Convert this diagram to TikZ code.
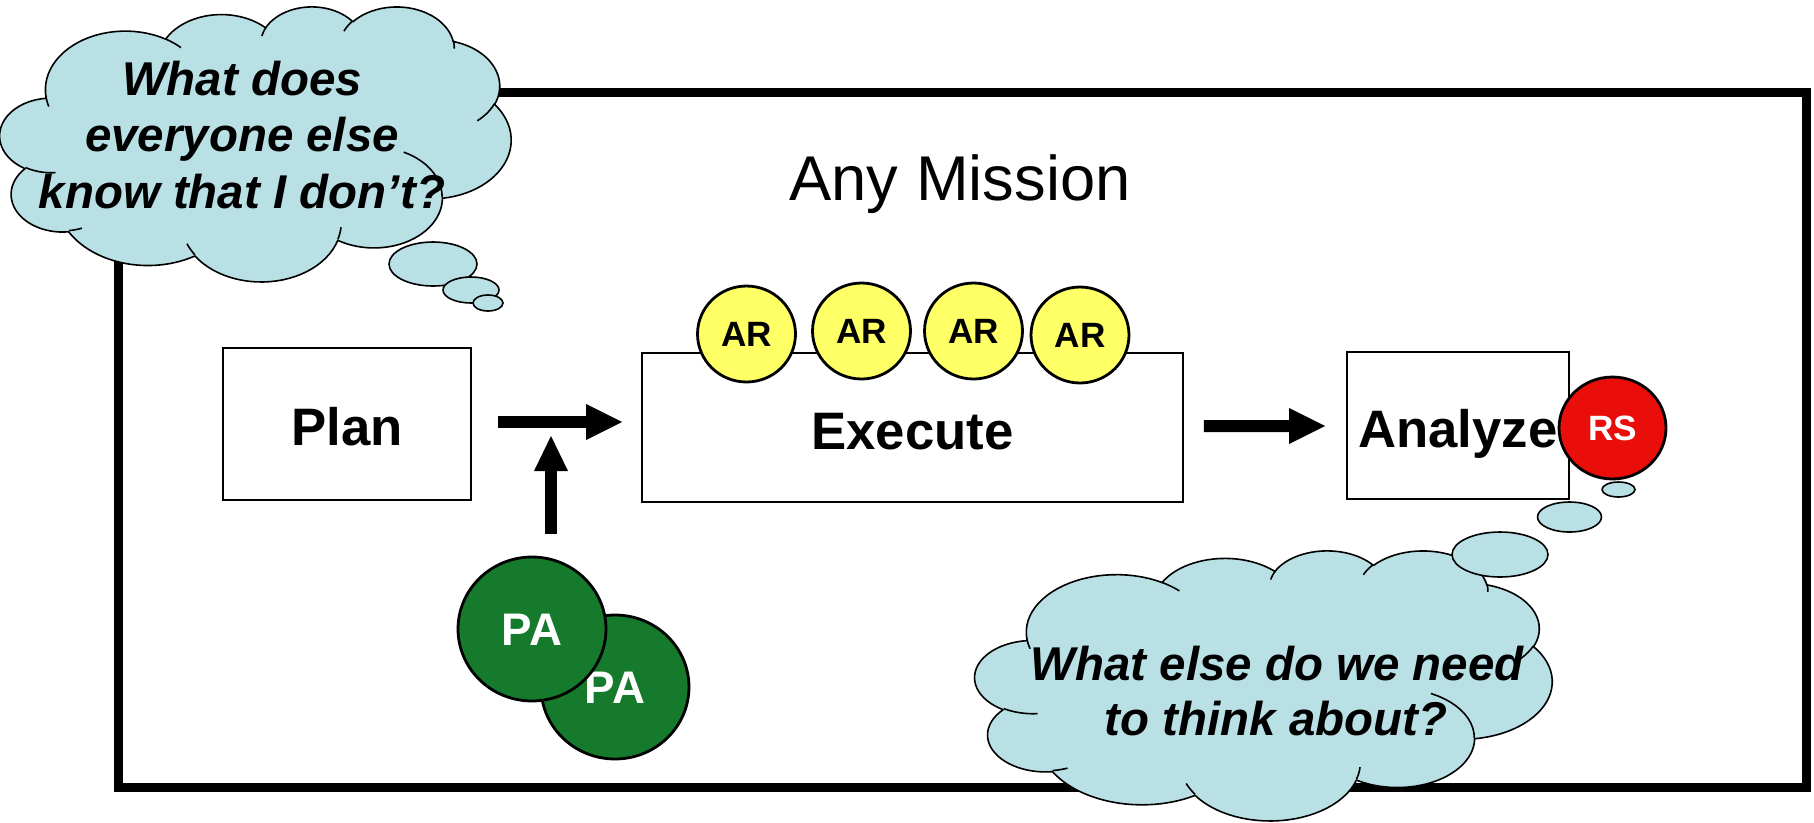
\documentclass[tikz,border=0pt]{standalone}
\usepackage{fontspec}
\setmainfont{Liberation Sans}
\usetikzlibrary{arrows.meta,calc,shapes.geometric}

\definecolor{cloudblue}{RGB}{185,224,228}
\definecolor{aryellow}{RGB}{255,255,102}
\definecolor{pagreen}{RGB}{21,122,43}
\definecolor{rsred}{RGB}{233,14,10}

% ---------------------------------------------------------------
% Cloud outline on a 0..432 grid, built from elliptical arcs that
% are given by radii, a start ray angle and a sweep (all degrees).
% ---------------------------------------------------------------
\newcommand\cldsweep[4]{%
  \pgfmathsetmacro\cldts{atan2(#1*sin(#3),#2*cos(#3))}%
  \pgfmathsetmacro\cldtt{atan2(#1*sin(#3+#4),#2*cos(#3+#4))}%
  \pgfmathsetmacro\cldte{\cldts+mod(\cldtt-\cldts+720,360)}%
  \pgfmathsetmacro\cldcx{\cldx-#1*cos(\cldts)}%
  \pgfmathsetmacro\cldcy{\cldy-#2*sin(\cldts)}%
  \pgfmathsetmacro\cldnx{\cldcx+#1*cos(\cldte)}%
  \pgfmathsetmacro\cldny{\cldcy+#2*sin(\cldte)}%
  \xdef\cldx{\cldnx}\xdef\cldy{\cldny}%
}
\newcommand\cldbegin[2]{\xdef\cldx{#1}\xdef\cldy{#2}\xdef\cldouter{(#1,#2)}}
\newcommand\cldarc[4]{%
  \cldsweep{#1}{#2}{#3}{#4}%
  \xdef\cldouter{\unexpanded\expandafter{\cldouter} -- plot[domain=\cldts:\cldte,samples=28,variable=\noexpand\t]({\cldcx+#1*cos(\noexpand\t)},{\cldcy+#2*sin(\noexpand\t)})}%
}
\gdef\cldinner{}
\newcommand\cldinnerarc[6]{%
  \xdef\cldx{#1}\xdef\cldy{#2}%
  \cldsweep{#3}{#4}{#5}{#6}%
  \xdef\cldinner{\unexpanded\expandafter{\cldinner} plot[domain=\cldts:\cldte,samples=12,variable=\noexpand\t]({\cldcx+#3*cos(\noexpand\t)},{\cldcy+#4*sin(\noexpand\t)})}%
}

% outer contour of the cloud
\cldbegin{39.00}{143.70}
\cldarc{67.53}{91.90}{-190.4875}{123.7805}
\cldarc{53.33}{72.67}{-144.1024}{89.9452}
\cldarc{43.65}{59.45}{-145.8079}{99.7230}
\cldarc{48.57}{65.95}{-130.9861}{117.2417}
\cldarc{53.33}{72.73}{-78.7089}{109.0269}
\cldarc{67.75}{92.20}{-46.2673}{130.2690}
\cldarc{57.85}{78.67}{0.6250}{114.0333}
\cldarc{67.52}{92.15}{22.4516}{115.1726}
\cldarc{77.20}{105.43}{66.2426}{75.7110}
\cldarc{43.60}{59.18}{-274.9421}{146.7356}
\cldarc{43.45}{59.45}{-246.8285}{152.5189}

% short inner strokes between the puffs
\cldinnerarc{46.93}{261.77}{43.45}{59.45}{86.742}{26.430}
\cldinnerarc{69.28}{348.99}{43.60}{59.18}{73.610}{11.447}
\cldinnerarc{164.78}{390.90}{67.52}{92.15}{137.624}{14.081}
\cldinnerarc{288.27}{347.51}{67.52}{92.15}{6.4533}{15.998}
\cldinnerarc{341.29}{229.54}{57.85}{78.67}{-70.2924}{70.9174}
\cldinnerarc{417.98}{153.54}{53.33}{72.73}{30.318}{27.752}
\cldinnerarc{383.24}{54.26}{48.57}{65.95}{-13.744}{14.859}
\cldinnerarc{290.78}{39.52}{48.57}{65.95}{-149.181}{18.195}
\cldinnerarc{221.41}{47.20}{43.65}{59.45}{-163.494}{17.686}
\cldinnerarc{140.00}{51.92}{67.53}{91.90}{-66.707}{12.319}
\cldinnerarc{41.27}{157.89}{67.53}{91.90}{157.654}{11.858}

% draws the cloud in the box with top-left corner (#1,#2), size #3 x #4
\newcommand\drawcloud[4]{%
  \begin{scope}[shift={(#1,#2)}, xscale=#3/432, yscale=#4/432]
    \draw[cloudline, fill=cloudblue] \cldouter -- cycle;
    \draw[cloudline] \cldinner;
  \end{scope}}

\begin{document}
\begin{tikzpicture}[x=0.02cm, y=-0.02cm,
  cloudline/.style={line width=0.032cm, line join=round},
  bubble/.style={ellipse, draw, cloudline, fill=cloudblue, inner sep=0pt, outer sep=0pt},
  stage/.style={draw, line width=0.05cm, fill=white, inner sep=0pt, outer sep=0pt,
    font=\fontsize{30}{36}\selectfont\bfseries, text height=24.5pt, text depth=0pt},
  role/.style={ellipse, draw, line width=0.056cm, inner sep=0pt, outer sep=0pt, text depth=0pt},
  artag/.style={role, fill=aryellow, minimum width=1.96cm, minimum height=1.92cm,
    font=\fontsize{20}{24}\selectfont\bfseries, text height=14.3pt},
  patag/.style={role, fill=pagreen, text=white, minimum width=2.96cm, minimum height=2.88cm,
    font=\fontsize{26}{31}\selectfont\bfseries, text height=18.6pt},
  rstag/.style={role, fill=rsred, text=white, minimum width=2.14cm, minimum height=2.04cm,
    font=\fontsize{20}{24}\selectfont\bfseries, text height=14.3pt},
  thought/.style={anchor=base, inner sep=0pt, font=\fontsize{27}{31}\selectfont\bfseries\itshape},
  flow/.style={line width=0.24cm, -{Triangle[length=0.72cm, width=0.72cm, line width=0pt]}},
]
\useasboundingbox (0,0) rectangle (1814,822);
\clip (0,0) rectangle (1814,822);
\fill[white] (0,0) rectangle (1814,822);

% mission frame
\draw[line width=0.18cm] (118,92) rectangle (1806,787);

\node[anchor=base, inner sep=0pt, font=\fontsize{36}{43}\selectfont] (mission) at (960,200) {Any Mission};

% stages
\node[stage, minimum width=4.96cm, minimum height=3.04cm] (plan) at (347,424) {Plan};
\node[stage, minimum width=10.82cm, minimum height=2.98cm] (exec) at (912.5,427.5) {Execute};
\node[stage, minimum width=4.44cm, minimum height=2.94cm] (ana) at (1458,425.5) {Analyze};

% roles on the execute stage
\node[artag] (ar1) at (746.5,334) {AR};
\node[artag] (ar2) at (861.5,331) {AR};
\node[artag] (ar3) at (973.5,331) {AR};
\node[artag] (ar4) at (1080,335) {AR};

\node[rstag] (rs) at (1612.5,428) {RS};

% planning assistants
\node[patag] (pa2) at (615,687) {PA};
\node[patag] (pa1) at (532,629) {PA};

% flow arrows
\draw[flow] ($(plan.east)+(27,-2)$) -- ($(exec.west)+(-20,-5.5)$);
\draw[flow] ($(exec.east)+(21,-1.5)$) -- ($(ana.west)+(-22,0.5)$);
\draw[line width=0.24cm, -{Triangle[length=0.70cm, width=0.68cm, line width=0pt]}]
  ($(pa1.north)+(19,-23)$) -- ($(pa1.north)+(19,-121)$);

% thought cloud, upper left
\drawcloud{0}{6}{511}{275}
\node[bubble, minimum width=1.76cm, minimum height=0.88cm] (tl1) at (433,264) {};
\node[bubble, minimum width=1.12cm, minimum height=0.52cm] (tl2) at (471,290) {};
\node[bubble, minimum width=0.60cm, minimum height=0.32cm] (tl3) at (488,303) {};
\node[thought] (q1a) at (242,95) {What does};
\node[thought] (q1b) at (242,151) {everyone else};
\node[thought] (q1c) at (242,208) {know that I don’t?};

% thought cloud, lower right
\drawcloud{975}{550}{577}{270}
\node[bubble, minimum width=1.92cm, minimum height=0.90cm] (br1) at (1500,554.5) {};
\node[bubble, minimum width=1.28cm, minimum height=0.60cm] (br2) at (1569.5,517) {};
\node[bubble, minimum width=0.66cm, minimum height=0.30cm] (br3) at (1618.5,489.5) {};
\node[thought] (q2a) at (1277,680) {What else do we need};
\node[thought] (q2b) at (1276,735) {to think about?};
\end{tikzpicture}
\end{document}
